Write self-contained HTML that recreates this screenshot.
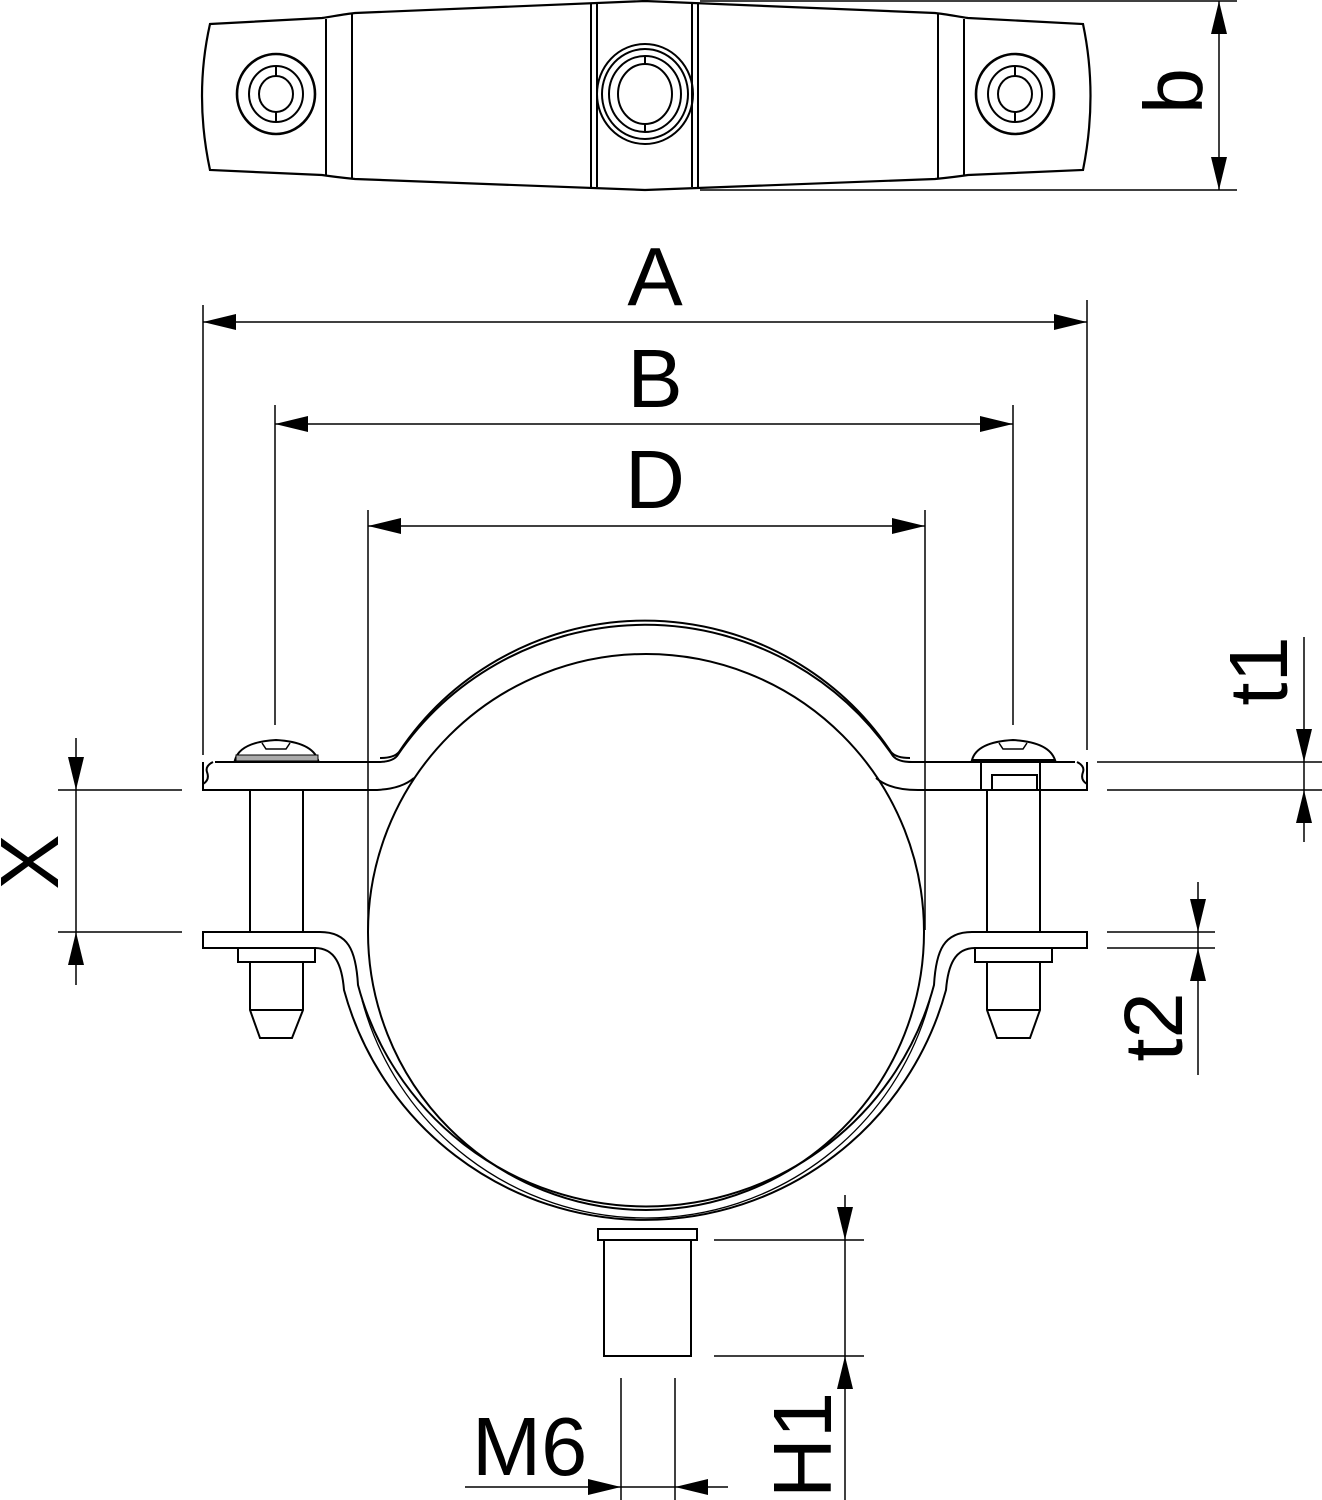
<!DOCTYPE html>
<html><head><meta charset="utf-8"><style>
html,body{margin:0;padding:0;background:#fff}
svg{display:block}
text{font-family:"Liberation Sans",Arial,sans-serif;fill:#000}
</style></head><body>
<svg width="1322" height="1500" viewBox="0 0 1322 1500" xmlns="http://www.w3.org/2000/svg">
<g fill="none" stroke="#000" stroke-width="2">
<!-- TOP VIEW -->
<path d="M210,24 L322,18 C335,16 345,14 355,13 L645,1 L935,13 C945,14 955,16 968,18 L1083,24 Q1098,95 1083,170 L968,175 C955,177 945,178 935,179 L645,190 L355,179 C345,178 335,177 322,175 L210,170 Q194,95 210,24 Z" stroke-width="2.2"/>
<line x1="326" y1="19" x2="326" y2="175"/>
<line x1="352" y1="14" x2="352" y2="178"/>
<line x1="591" y1="4" x2="591" y2="187"/>
<line x1="597" y1="4" x2="597" y2="187"/>
<line x1="692" y1="4" x2="692" y2="187"/>
<line x1="698" y1="4" x2="698" y2="187"/>
<line x1="938" y1="14" x2="938" y2="178"/>
<line x1="964" y1="19" x2="964" y2="175"/>
<ellipse cx="276" cy="94" rx="39" ry="40" stroke-width="2.6"/>
<ellipse cx="276" cy="94" rx="27" ry="28"/>
<ellipse cx="276" cy="94" rx="17" ry="18"/>
<line x1="276" y1="66" x2="276" y2="76"/><line x1="276" y1="112" x2="276" y2="122"/>
<ellipse cx="1015" cy="94" rx="39" ry="40" stroke-width="2.6"/>
<ellipse cx="1015" cy="94" rx="27" ry="28"/>
<ellipse cx="1015" cy="94" rx="17" ry="18"/>
<line x1="1015" y1="66" x2="1015" y2="76"/><line x1="1015" y1="112" x2="1015" y2="122"/>
<ellipse cx="645" cy="94" rx="48" ry="50"/>
<ellipse cx="645" cy="94" rx="43" ry="45"/>
<ellipse cx="645" cy="94" rx="36" ry="38"/>
<ellipse cx="645" cy="94" rx="27" ry="30"/>
<line x1="645" y1="56" x2="645" y2="64"/><line x1="645" y1="124" x2="645" y2="132"/>
<!-- b dim -->
<line x1="700" y1="1" x2="1237" y2="1" stroke-width="1.5"/>
<line x1="700" y1="190" x2="1237" y2="190" stroke-width="1.5"/>
<line x1="1219" y1="1" x2="1219" y2="190" stroke-width="1.5"/>

<!-- DIMENSION LINES -->
<g stroke-width="1.5">
<line x1="203" y1="305" x2="203" y2="755"/>
<line x1="1087" y1="300" x2="1087" y2="750"/>
<line x1="203" y1="322" x2="1087" y2="322"/>
<line x1="275" y1="405" x2="275" y2="725"/>
<line x1="1013" y1="405" x2="1013" y2="725"/>
<line x1="275" y1="424" x2="1013" y2="424"/>
<line x1="368" y1="510" x2="368" y2="930"/>
<line x1="925" y1="510" x2="925" y2="930"/>
<line x1="368" y1="526" x2="925" y2="526"/>
<!-- X -->
<line x1="58" y1="790" x2="182" y2="790"/>
<line x1="58" y1="932" x2="182" y2="932"/>
<line x1="76" y1="738" x2="76" y2="985"/>
<!-- t1 -->
<line x1="1097" y1="762" x2="1322" y2="762"/>
<line x1="1107" y1="790" x2="1322" y2="790"/>
<line x1="1304" y1="637" x2="1304" y2="842"/>
<!-- t2 -->
<line x1="1107" y1="932" x2="1215" y2="932"/>
<line x1="1107" y1="948" x2="1215" y2="948"/>
<line x1="1198" y1="882" x2="1198" y2="1075"/>
<!-- H1 -->
<line x1="714" y1="1240" x2="864" y2="1240"/>
<line x1="714" y1="1356" x2="864" y2="1356"/>
<line x1="845" y1="1195" x2="845" y2="1500"/>
<!-- M6 -->
<line x1="621" y1="1378" x2="621" y2="1500"/>
<line x1="675" y1="1378" x2="675" y2="1500"/>
<line x1="465" y1="1487" x2="728" y2="1487"/>
</g>

<!-- PIPE -->
<circle cx="646" cy="932" r="278"/>
<!-- upper band -->
<path d="M215,762 H378 Q392,762 397,756 A300,300 0 0 1 893,756 Q898,762 912,762 H1075"/>
<path d="M380,758 Q394,758 399,752 A296,296 0 0 1 891,752 Q896,758 910,758"/>
<!-- upper flange -->
<path d="M213,762 Q205,766 207,772 Q210,780 203,784 V790 H372 Q400,790 414,778"/>
<path d="M1077,762 Q1085,766 1083,772 Q1080,780 1087,784 V790 H918 Q890,790 876,778"/>
<line x1="203" y1="784" x2="203" y2="762"/>
<line x1="1087" y1="784" x2="1087" y2="762"/>
<!-- lower flange & band -->
<path d="M203,932 H320 C348,932 356,950 358,985 A298,298 0 0 0 934,985 C936,950 944,932 972,932 H1087 V948 H975 C955,948 948,965 946,990 A312,312 0 0 1 344,990 C342,965 335,948 315,948 H203 Z"/>
<path d="M362,1000 A294,294 0 0 0 930,1000" stroke-width="1.3"/>
<!-- left bolt -->
<rect x="250" y="790" width="53" height="142"/>
<rect x="238" y="948" width="77" height="14"/>
<path d="M250,962 V1010 L260,1038 H292 L303,1010 V962"/>
<line x1="250" y1="1010" x2="303" y2="1010"/>
<path d="M235,760 Q240,742 276,740 Q312,742 318,760 Z" fill="#fff"/>
<rect x="236" y="755" width="82" height="6" fill="#aaa" stroke-width="1"/>
<path d="M262,743 l4,6 h20 l4,-6" stroke-width="1.5"/>
<!-- right bolt -->
<rect x="987" y="790" width="53" height="142"/>
<rect x="975" y="948" width="77" height="14"/>
<path d="M987,962 V1010 L997,1038 H1030 L1040,1010 V962"/>
<line x1="987" y1="1010" x2="1040" y2="1010"/>
<rect x="981" y="762" width="59" height="28" fill="#fff"/>
<rect x="992" y="775" width="45" height="15"/>
<path d="M972,760 Q977,742 1013,740 Q1049,742 1055,760 Z" fill="#fff"/>
<path d="M999,743 l4,6 h20 l4,-6" stroke-width="1.5"/>
<!-- bottom nut -->
<rect x="598" y="1229" width="99" height="11"/>
<rect x="604" y="1240" width="87" height="116"/>
</g>

<!-- ARROWHEADS -->
<g fill="#000">
<path d="M203,322 l33,-8 v16 z"/><path d="M1087,322 l-33,-8 v16 z"/>
<path d="M275,424 l33,-8 v16 z"/><path d="M1013,424 l-33,-8 v16 z"/>
<path d="M368,526 l33,-8 v16 z"/><path d="M925,526 l-33,-8 v16 z"/>
<path d="M1219,1 l-8,33 h16 z"/><path d="M1219,190 l-8,-33 h16 z"/>
<path d="M76,790 l-8,-33 h16 z"/><path d="M76,932 l-8,33 h16 z"/>
<path d="M1304,762 l-8,-33 h16 z"/><path d="M1304,790 l-8,33 h16 z"/>
<path d="M1198,932 l-8,-33 h16 z"/><path d="M1198,948 l-8,33 h16 z"/>
<path d="M845,1240 l-8,-33 h16 z"/><path d="M845,1356 l-8,33 h16 z"/>
<path d="M621,1487 l-33,-8 v16 z"/><path d="M675,1487 l33,-8 v16 z"/>
</g>

<!-- LABELS -->
<g font-size="83">
<text x="655" y="305" text-anchor="middle">A</text>
<text x="655" y="407" text-anchor="middle">B</text>
<text x="655" y="508" text-anchor="middle">D</text>
<text x="472" y="1475">M6</text>
<text transform="translate(1202,91) rotate(-90)" text-anchor="middle">b</text>
<text transform="translate(58,862) rotate(-90)" text-anchor="middle">X</text>
<text transform="translate(1287,671) rotate(-90)" text-anchor="middle">t1</text>
<text transform="translate(1182,1027) rotate(-90)" text-anchor="middle">t2</text>
<text transform="translate(831,1445) rotate(-90)" text-anchor="middle">H1</text>
</g>
</svg>
</body></html>
